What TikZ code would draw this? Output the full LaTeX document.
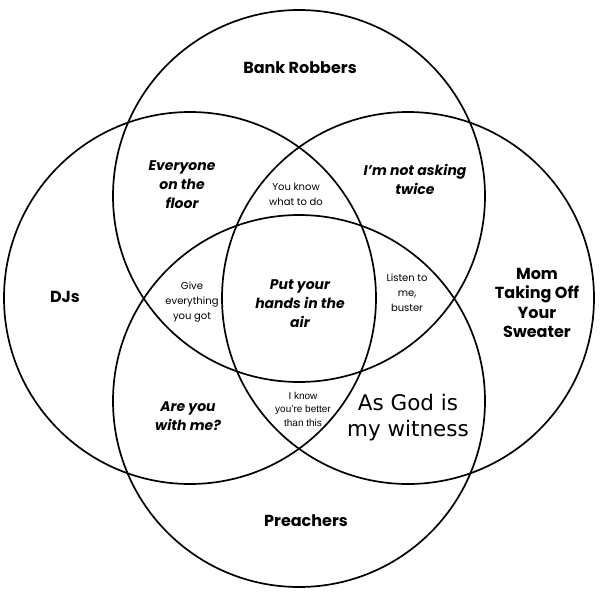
\documentclass[tikz,border=0pt]{standalone}
\usepackage{fontspec}
\setmainfont{Poppins}
\newfontfamily\dejavu{DejaVu Sans}
\newfontfamily\arialf{Liberation Sans}
\begin{document}
\begin{tikzpicture}[x=1pt,y=-1pt,
  ring/.style={draw=black,line width=1.7pt},
  setlabel/.style={align=center,inner sep=0pt,font=\fontsize{16}{19.5}\selectfont\bfseries},
  bigital/.style={align=center,inner sep=0pt,font=\fontsize{14}{19}\selectfont\bfseries\itshape},
  smalltxt/.style={align=center,inner sep=0pt,font=\fontsize{10}{15}\selectfont},
  tinytxt/.style={align=center,inner sep=0pt,font=\arialf\fontsize{10}{13.5}\selectfont},
  godtxt/.style={align=center,inner sep=0pt,font=\dejavu\fontsize{21.5}{26}\selectfont}]
\useasboundingbox[fill=white] (0,0) rectangle (600,592);
\draw[ring] (299,196) circle (186);
\draw[ring] (299,401) circle (186);
\draw[ring] (190,298) circle (186);
\draw[ring] (408,298) circle (186);
\node[setlabel] (bank) at (300,68) {Bank Robbers};
\node[setlabel] (djs) at (65,297) {DJs};
\node[setlabel] (mom) at (537,303) {Mom\\Taking Off\\Your\\Sweater};
\node[setlabel] (preach) at (306,521) {Preachers};
\node[bigital] (floor) at (182,185) {Everyone\\on the\\floor};
\node[bigital] (twice) at (415,179) {I’m not asking\\twice};
\node[smalltxt] (youknow) at (296,194) {You know\\what to do};
\node[smalltxt] (give) at (192,302) {Give\\everything\\you got};
\node[bigital] (hands) at (300,304) {Put your\\hands in the\\air};
\node[smalltxt] (listen) at (407,293) {Listen to\\me,\\buster};
\node[bigital] (areyou) at (188,416) {Are you\\with me?};
\node[tinytxt] (better) at (303,409) {I know\\you’re better\\than this};
\node[godtxt] (god) at (408,418) {As God is\\my witness};
\end{tikzpicture}
\end{document}
